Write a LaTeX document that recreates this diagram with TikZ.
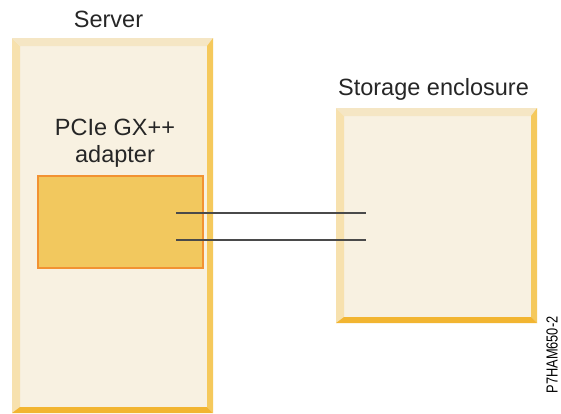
\documentclass[tikz,border=0pt]{standalone}
\usepackage{fontspec}
\setmainfont{Liberation Sans}
\usetikzlibrary{calc, positioning}
\usepackage{xcolor}
\definecolor{casecream}{HTML}{F8F1E1}
\definecolor{bevelleft}{HTML}{F7E1AE}
\definecolor{beveltop}{HTML}{F5E6C4}
\definecolor{bevelright}{HTML}{F5C95C}
\definecolor{bevelbottom}{HTML}{F2B531}
\definecolor{cardfill}{HTML}{F2C85E}
\definecolor{cardedge}{HTML}{F29232}
\definecolor{cablegrey}{HTML}{4A4A4A}

\tikzset{
  enclosure/.style={fill=casecream, inner sep=0pt, outer sep=0pt},
  card/.style={fill=cardfill, draw=cardedge, line width=2pt, inner sep=0pt},
  title/.style={font=\fontsize{23.5}{27}\selectfont, text=black!85, inner sep=0pt},
  cable/.style={draw=cablegrey, line width=1.1pt}
}

\begin{document}
\begin{tikzpicture}[x=1pt, y=-1pt]
          \useasboundingbox[fill=white] (0,0) rectangle (561,413);

          % the two cases
          \node[enclosure, minimum width=201, minimum height=375] (server) at (112.5,225.5) {};
          \node[enclosure, minimum width=201, minimum height=215] (storage) at (436.5,215.5) {};

          % bevelled edges round each case
          \foreach \encl in {server, storage} {
            \coordinate (nwi) at ($(\encl.north west)+(8,8)$);
            \coordinate (nei) at ($(\encl.north east)+(-6,8)$);
            \coordinate (sei) at ($(\encl.south east)+(-6,-6)$);
            \coordinate (swi) at ($(\encl.south west)+(8,-6)$);
            \fill[bevelleft] (\encl.north west) -- (\encl.south west) -- (swi) -- (nwi) -- cycle;
            \fill[beveltop] (\encl.north west) -- (\encl.north east) -- (nei) -- (nwi) -- cycle;
            \fill[bevelright] (\encl.north east) -- (\encl.south east) -- (sei) -- (nei) -- cycle;
            \fill[bevelbottom] (\encl.south west) -- (\encl.south east) -- (sei) -- (swi) -- cycle;
          }

          % adapter card in the server
          \node[card, minimum width=165, minimum height=92] (adapter) at (120.5,222) {};

          \node[title, anchor=base] (servertitle) at (108.5,27) {Server};
          \node[title, anchor=base, align=center] (adaptertitle) at (115,162) {PCIe GX++\\adapter};
          \node[title, anchor=base] (storagetitle) at (433.5,95) {Storage enclosure};
          \node[rotate=90, anchor=base, inner sep=0pt, font=\fontsize{16}{16}\selectfont] (figid) at (557.5,355) {\scalebox{0.8}[1]{P7HAM650-2}};

          % cables from the card to the enclosure
          \coordinate (cableA) at (176,213);
          \coordinate (cableB) at (176,240);
          \draw[cable] (cableA) -- (cableA -| storage.west) -- ++(30,0);
          \draw[cable] (cableB) -- (cableB -| storage.west) -- ++(30,0);
\end{tikzpicture}
\end{document}
